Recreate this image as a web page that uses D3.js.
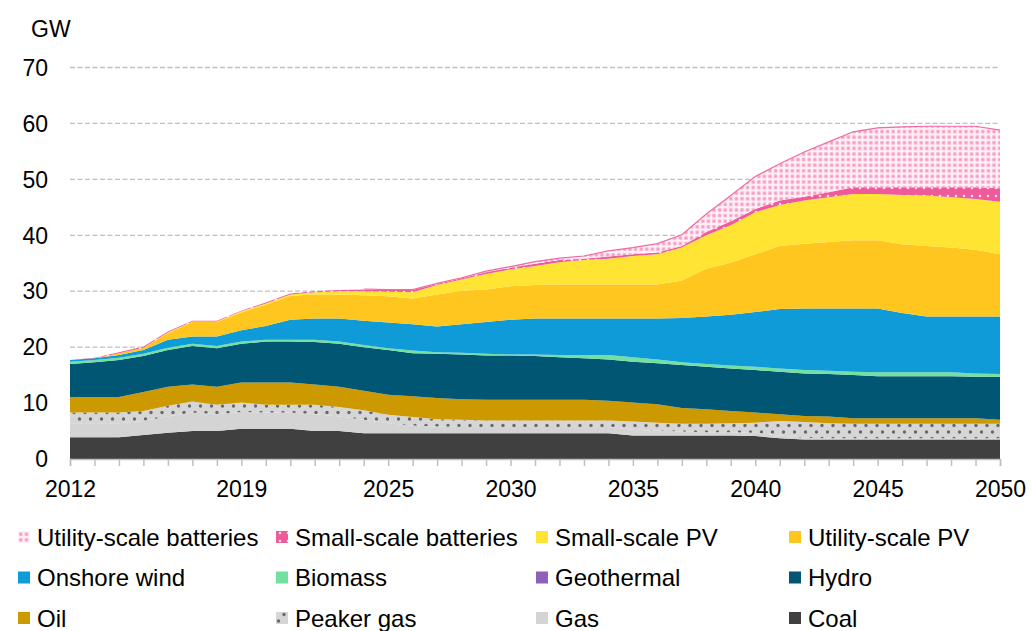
<!DOCTYPE html>
<html>
<head>
<meta charset="utf-8">
<script src="https://cdn.jsdelivr.net/npm/d3@7"></script>
<style>
  body { margin: 0; background: #fff; }
  svg { display: block; }
</style>
</head>
<body>
<div id="chart"></div>
<script>
// Data, GW by year
const years = [2012,2013,2014,2015,2016,2017,2018,2019,2020,2021,2022,2023,2024,2025,2026,2027,2028,2029,2030,
  2031,2032,2033,2034,2035,2036,2037,2038,2039,2040,2041,2042,2043,2044,2045,2046,2047,2048,2049,2050];

const coal = [3.9,3.9,3.9,4.3,4.7,5.0,5.0,5.4,5.4,5.4,5.0,5.0,4.6, 4.6,4.6,4.6,4.6,4.6,4.6,4.6,4.6,4.6,4.6,
  4.2,4.2,4.2,4.2,4.2,4.1,3.7, 3.5, 3.5,3.5,3.5,3.5,3.5,3.5,3.5,3.5];
const gas = [2.5,2.5,2.5,2.5,2.9,3.3,3.0,3.0,2.9,2.9,3.0,2.6,2.4, 1.8,1.4,1.2,1.1,1.1,1.1,1.1,1.1,1.1,1.1,
  1.0,0.9,0.7,0.6,0.6,0.6,0.5, 0.3, 0.2,0.2,0.2,0.2,0.2,0.2,0.2,0.2];
const peakerGas = [1.9,1.9,1.9,1.8,1.9,2.0,1.7,1.7,1.4,1.4,1.7,1.7,1.7, 1.5,1.5,1.3,1.3,1.2,1.2,1.2,1.2,1.2,1.2,
  1.5,1.4,1.4,1.5,1.6,1.8,2.6, 2.8, 2.7,2.6,2.6,2.6,2.6,2.6,2.6,2.6];
const oil = [2.8,2.8,2.8,3.4,3.4,3.0,3.2,3.6,4.0,4.0,3.6,3.6,3.5, 3.6,3.7,3.8,3.7,3.7,3.7,3.7,3.7,3.7,3.5,
  3.4,3.3,2.8,2.6,2.2,1.8,1.2, 1.1, 1.2,1.0,1.0,1.0,1.0,1.0,1.0,0.7];
const hydro = [5.9,6.2,6.6,6.4,6.6,6.9,6.9,6.9,7.3,7.3,7.6,7.7,7.8, 8.0,7.7,7.9,8.0,7.9,7.9,7.8,7.6,7.4,7.4,
  7.3,7.3,7.7,7.6,7.6,7.6,7.6, 7.6, 7.6,7.7,7.5,7.5,7.5,7.5,7.4,7.7];
const geothermal = [0,0,0,0,0,0,0,0,0,0,0,0,0, 0,0,0,0,0,0,0,0,0,0,
  0,0,0,0,0,0,0, 0, 0,0,0,0,0,0,0,0];
const biomass = [0.4,0.4,0.4,0.4,0.4,0.4,0.4,0.4,0.3,0.3,0.4,0.4,0.4, 0.3,0.5,0.3,0.3,0.3,0.2,0.3,0.4,0.6,0.8,
  0.8,0.7,0.5,0.5,0.5,0.6,0.6, 0.6, 0.6,0.6,0.7,0.7,0.7,0.7,0.6,0.5];
const onshoreWind = [0.3,0.3,0.5,0.7,1.4,1.3,1.7,2.0,2.5,3.6,3.8,4.1,4.3, 4.6,4.7,4.6,5.1,5.7,6.2,6.4,6.5,6.5,6.5,
  6.9,7.3,7.9,8.5,9.1,9.8,10.6, 11.0, 11.1,11.3,11.4,10.6,10.0,10.0,10.2,10.3];
const utilityPV = [0,0,0.3,0.4,1.2,2.6,2.6,3.2,3.8,4.3,4.3,4.3,4.6, 4.7,4.6,5.7,6.0,5.8,6.0,6.0,6.1,6.1,6.1,
  6.1,6.1,6.7,8.5,9.3,10.3,11.3, 11.6, 11.9,12.2,12.2,12.3,12.6,12.3,11.9,11.1];
const smallPV = [0,0,0,0,0.1,0.1,0.1,0.2,0.2,0.2,0.4,0.6,0.7, 0.8,1.1,1.7,2.0,2.8,3.0,3.4,4.0,4.4,4.6,
  5.1,5.4,5.9,6.0,6.7,7.5,7.3, 7.7, 8.0,8.3,8.3,8.8,9.0,9.0,9.1,9.4];
const smallBatteries = [0,0.1,0.2,0.2,0.2,0.1,0.1,0.1,0.2,0.2,0.2,0.2,0.3, 0.3,0.4,0.2,0.2,0.3,0.3,0.4,0.4,0.2,0.4,
  0.3,0.3,0.3,0.6,0.7,0.6,0.8, 0.7, 0.9,1.2,1.2,1.4,1.5,1.8,2.1,2.4];
const utilityBatteries = [0,0,0,0,0,0,0,0,0,0,0,0,0.1, 0.1,0.1,0.1,0.1,0.2,0.2,0.4,0.3,0.5,1.0,
  1.2,1.6,2.0,3.2,4.6,5.8,6.6, 8.0, 9.0,9.9,10.6,10.8,10.9,10.9,10.9,10.4];

const yTicks = [0,10,20,30,40,50,60,70];
const xLabels = [2012,2019,2025,2030,2035,2040,2045,2050];

// series, bottom of the stack first
const series = [
  {key: "Coal", values: coal, fill: "#404040"},
  {key: "Gas", values: gas, fill: "#d4d4d4"},
  {key: "Peaker gas", values: peakerGas, fill: "url(#peaker)"},
  {key: "Oil", values: oil, fill: "#cc9900"},
  {key: "Hydro", values: hydro, fill: "#005673"},
  {key: "Geothermal", values: geothermal, fill: "#8e60b8"},
  {key: "Biomass", values: biomass, fill: "#72e0a0"},
  {key: "Onshore wind", values: onshoreWind, fill: "#0f9bd7"},
  {key: "Utility-scale PV", values: utilityPV, fill: "#ffc61f"},
  {key: "Small-scale PV", values: smallPV, fill: "#ffe433"},
  {key: "Small-scale batteries", values: smallBatteries, fill: "url(#smallbatt)"},
  {key: "Utility-scale batteries", values: utilityBatteries, fill: "url(#utilbatt)"}
];

// legend grid, read row by row
const legendOrder = [
  "Utility-scale batteries", "Small-scale batteries", "Small-scale PV", "Utility-scale PV",
  "Onshore wind", "Biomass", "Geothermal", "Hydro",
  "Oil", "Peaker gas", "Gas", "Coal"
];

const width = 1032;
const height = 631;
const margin = {left: 70, right: 32, top: 67.5, bottom: 172};
const font = "'Liberation Sans', Arial, sans-serif";

function drawChart(container) {
  const table = years.map((y, i) => {
    const row = {year: y};
    series.forEach(s => row[s.key] = s.values[i]);
    return row;
  });

  const stacked = d3.stack().keys(series.map(s => s.key))(table);

  const x = d3.scaleLinear()
    .domain([2012, 2050])
    .range([margin.left, width - margin.right]);

  const y = d3.scaleLinear()
    .domain([0, 70])
    .range([height - margin.bottom, margin.top]);

  const svg = d3.select(container).append("svg")
    .attr("width", width)
    .attr("height", height)
    .attr("viewBox", [0, 0, width, height])
    .style("font-family", font);

  // patterns
  const defs = svg.append("defs");

  const peaker = defs.append("pattern")
    .attr("id", "peaker")
    .attr("patternUnits", "userSpaceOnUse")
    .attr("width", 11).attr("height", 13);
  peaker.append("rect").attr("width", 11).attr("height", 13).attr("fill", "#d6d6d6");
  peaker.append("circle").attr("cx", 2.5).attr("cy", 3).attr("r", 1.7).attr("fill", "#686868");
  peaker.append("circle").attr("cx", 8).attr("cy", 9.5).attr("r", 1.7).attr("fill", "#686868");

  const smallbatt = defs.append("pattern")
    .attr("id", "smallbatt")
    .attr("patternUnits", "userSpaceOnUse")
    .attr("width", 8).attr("height", 8);
  smallbatt.append("rect").attr("width", 8).attr("height", 8).attr("fill", "#ee5a9a");
  smallbatt.append("circle").attr("cx", 4).attr("cy", 4).attr("r", 1.3).attr("fill", "#fde0ec");

  const utilbatt = defs.append("pattern")
    .attr("id", "utilbatt")
    .attr("patternUnits", "userSpaceOnUse")
    .attr("width", 5.6).attr("height", 5.6);
  utilbatt.append("rect").attr("width", 5.6).attr("height", 5.6).attr("fill", "#fff0f6");
  utilbatt.append("rect").attr("x", 1.3).attr("y", 1.3).attr("width", 3).attr("height", 3).attr("fill", "#f48ab9");
  utilbatt.append("rect").attr("x", 2.3).attr("y", 2.3).attr("width", 1).attr("height", 1).attr("fill", "#fbd0e3");

  // gridlines
  svg.append("g")
    .selectAll("line")
    .data(yTicks.filter(d => d > 0))
    .join("line")
      .attr("x1", margin.left)
      .attr("x2", width - margin.right)
      .attr("y1", d => y(d))
      .attr("y2", d => y(d))
      .attr("stroke", "#bfbfbf")
      .attr("stroke-width", 1.3)
      .attr("stroke-dasharray", "5,2.5");

  // areas
  const area = d3.area()
    .x(d => x(d.data.year))
    .y0(d => y(d[0]))
    .y1(d => y(d[1]));

  svg.append("g")
    .selectAll("path")
    .data(stacked)
    .join("path")
      .attr("fill", (d, i) => series[i].fill)
      .attr("d", area);

  // pink edge on top of the utility batteries
  const topLayer = stacked[stacked.length - 1];
  svg.append("path")
    .datum(topLayer.filter(d => d.data.year >= 2024))
    .attr("fill", "none")
    .attr("stroke", "#f06aa3")
    .attr("stroke-width", 1.2)
    .attr("d", d3.line().x(d => x(d.data.year)).y(d => y(d[1])));

  // x axis
  const xAxis = svg.append("g")
    .attr("transform", `translate(0,${y(0)})`)
    .call(d3.axisBottom(x)
      .tickValues(years)
      .tickSize(7)
      .tickFormat(d => xLabels.includes(d) ? d : ""));
  xAxis.select(".domain").attr("stroke", "#bfbfbf").attr("stroke-width", 1.5);
  xAxis.selectAll(".tick line").attr("stroke", "#bfbfbf").attr("stroke-width", 1.5);
  xAxis.selectAll(".tick text")
    .attr("y", 22)
    .attr("fill", "#000")
    .style("font-family", font)
    .style("font-size", "23px");

  // y labels
  svg.append("g")
    .selectAll("text")
    .data(yTicks)
    .join("text")
      .attr("x", 48)
      .attr("y", d => y(d))
      .attr("dy", "0.36em")
      .attr("text-anchor", "end")
      .attr("font-size", 23)
      .text(d => d);

  svg.append("text")
    .attr("x", 31)
    .attr("y", 37)
    .attr("font-size", 23)
    .text("GW");

  // legend
  const colX = [18, 276, 536, 789];
  const rowY = [537, 577.5, 618];
  const legend = svg.append("g")
    .selectAll("g")
    .data(legendOrder)
    .join("g")
      .attr("transform", (d, i) => `translate(${colX[i % 4]},${rowY[Math.floor(i / 4)]})`);

  legend.append("rect")
    .attr("x", 0)
    .attr("y", -6)
    .attr("width", 12)
    .attr("height", 12)
    .attr("fill", d => series.find(s => s.key === d).fill);

  legend.append("text")
    .attr("x", 19)
    .attr("dy", "0.37em")
    .attr("font-size", 24)
    .text(d => d);
}

drawChart(document.getElementById("chart"));
</script>
</body>
</html>
